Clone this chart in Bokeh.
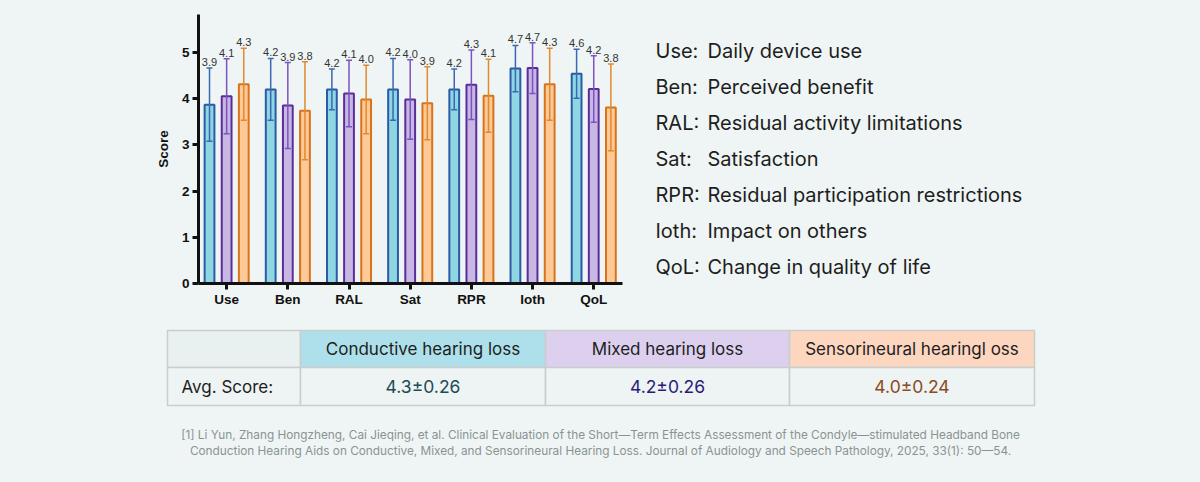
from bokeh.plotting import figure
from bokeh.models import ColumnDataSource, Range1d, FixedTicker, Whisker, TeeHead
from bokeh.layouts import column, row
from bokeh.embed import file_html
from bokeh.resources import INLINE
from bokeh.core.properties import value

# ---------------- data ----------------
categories = ["Use", "Ben", "RAL", "Sat", "RPR", "Ioth", "QoL"]
group_names = ["Conductive hearing loss", "Mixed hearing loss", "Sensorineural hearingl oss"]

conductive_mean = [3.87, 4.20, 4.20, 4.20, 4.20, 4.65, 4.54]
conductive_sd = [0.79, 0.67, 0.44, 0.67, 0.44, 0.50, 0.53]
conductive_lbl = ["3.9", "4.2", "4.2", "4.2", "4.2", "4.7", "4.6"]

mixed_mean = [4.05, 3.85, 4.11, 3.98, 4.30, 4.66, 4.21]
mixed_sd = [0.81, 0.93, 0.72, 0.86, 0.75, 0.55, 0.72]
mixed_lbl = ["4.1", "3.9", "4.1", "4.0", "4.3", "4.7", "4.2"]

sensori_mean = [4.31, 3.74, 3.98, 3.90, 4.06, 4.31, 3.81]
sensori_sd = [0.78, 1.06, 0.74, 0.79, 0.79, 0.78, 0.94]
sensori_lbl = ["4.3", "3.8", "4.0", "3.9", "4.1", "4.3", "3.8"]

y_ticks = [0, 1, 2, 3, 4, 5]

legend_abbr = ["Use:", "Ben:", "RAL:", "Sat:", "RPR:", "Ioth:", "QoL:"]
legend_desc = ["Daily device use", "Perceived benefit", "Residual activity limitations",
               "Satisfaction", "Residual participation restrictions", "Impact on others",
               "Change in quality of life"]

avg_label = "Avg. Score:"
avg_scores = ["4.3\u00b10.26", "4.2\u00b10.26", "4.0\u00b10.24"]

citation = [
    "[1] Li Yun, Zhang Hongzheng, Cai Jieqing, et al. Clinical Evaluation of the Short\u2014Term Effects Assessment of the Condyle\u2014stimulated Headband Bone",
    "Conduction Hearing Aids on Conductive, Mixed, and Sensorineural Hearing Loss. Journal of Audiology and Speech Pathology, 2025, 33(1): 50\u201454.",
]

# ---------------- styles ----------------
BG = "#eff5f4"
fills = ["#8fd6e3", "#c9b7e3", "#fcc997"]
lines = ["#2b5aa6", "#5a2d9a", "#d8731c"]
whisk = ["#3b68b3", "#7b52c2", "#e08a30"]
head_fills = ["#ade0ea", "#dcd0ee", "#fdd6c0"]
val_colors = ["#1d4a55", "#2c1a78", "#8b4a22"]
offsets = [-0.28, 0.0, 0.28]
FONT = "Liberation Sans"
TFONT = "Inter"


def blank(w, h, xr, yr):
    f = figure(frame_width=w, frame_height=h, output_backend="svg", toolbar_location=None,
               x_range=xr, y_range=yr, min_border=0,
               x_axis_location=None, y_axis_location=None)
    f.background_fill_color = BG
    f.border_fill_color = BG
    f.outline_line_color = None
    f.grid.visible = False
    return f


# ---------------- chart (page x 0..648, y 0..318) ----------------
p = figure(width=648, height=318, output_backend="svg", toolbar_location=None,
           x_range=Range1d(-0.46, 6.47), y_range=Range1d(0, 5.82),
           min_border_left=198, min_border_right=26, min_border_top=14, min_border_bottom=35)
p.background_fill_color = BG
p.border_fill_color = BG
p.outline_line_color = None
p.xgrid.visible = False
p.ygrid.visible = False

series = [(conductive_mean, conductive_sd, conductive_lbl),
          (mixed_mean, mixed_sd, mixed_lbl),
          (sensori_mean, sensori_sd, sensori_lbl)]

for g, (m, s, lb) in enumerate(series):
    src = ColumnDataSource(dict(
        x=[i + offsets[g] for i in range(len(categories))],
        top=m,
        upper=[a + b for a, b in zip(m, s)],
        lower=[a - b for a, b in zip(m, s)],
        lbl=lb,
    ))
    p.vbar(x="x", top="top", bottom=0, width=0.16, source=src,
           fill_color=fills[g], line_color=lines[g], line_width=2)
    w = Whisker(source=src, base="x", upper="upper", lower="lower",
                line_color=whisk[g], line_width=1.5, level="annotation",
                upper_head=TeeHead(size=6, line_color=whisk[g], line_width=1.5),
                lower_head=TeeHead(size=6, line_color=whisk[g], line_width=1.5))
    p.add_layout(w)
    p.text(x="x", y="upper", text="lbl", source=src, y_offset=-2,
           text_align="center", text_baseline="bottom",
           text_font=value(FONT), text_font_size="11px", text_color="#333333")

for ax in (p.xaxis[0], p.yaxis[0]):
    ax.axis_line_width = 3
    ax.axis_line_color = "#111111"
    ax.major_tick_line_width = 3
    ax.major_tick_line_color = "#111111"
    ax.major_tick_out = 6
    ax.major_tick_in = 0
    ax.minor_tick_line_color = None
    ax.major_label_text_font = FONT
    ax.major_label_text_font_style = "bold"
    ax.major_label_text_font_size = "13.5px"
    ax.major_label_text_color = "#111111"

p.xaxis.ticker = FixedTicker(ticks=list(range(len(categories))))
p.xaxis.major_label_overrides = {i: c for i, c in enumerate(categories)}
p.xaxis.major_label_standoff = 2
p.yaxis.ticker = FixedTicker(ticks=y_ticks)
p.yaxis.major_label_standoff = 3
p.yaxis.axis_label = "Score"
p.yaxis.axis_label_text_font = FONT
p.yaxis.axis_label_text_font_style = "bold"
p.yaxis.axis_label_text_font_size = "13.5px"
p.yaxis.axis_label_text_color = "#111111"
p.yaxis.axis_label_standoff = 8

# ---------------- legend text (page x 648..1200, y 0..318) ----------------
lg = blank(552, 318, Range1d(648, 1200), Range1d(318, 0))
ly = [36 + 36 * i for i in range(len(legend_abbr))]
lsrc = ColumnDataSource(dict(y=ly, a=legend_abbr, d=legend_desc))
lg.text(x=655, y="y", text="a", source=lsrc, text_font=value(TFONT), text_font_size="20px",
        text_color="#1e1e1e", text_baseline="middle", text_align="left")
lg.text(x=707, y="y", text="d", source=lsrc, text_font=value(TFONT), text_font_size="20px",
        text_color="#1e1e1e", text_baseline="middle", text_align="left")

# ---------------- table (page x 0..1200, y 318..482) ----------------
t = blank(1200, 164, Range1d(0, 1200), Range1d(482, 318))

col_x = [167, 300, 545, 789, 1034]
row_y = [330, 367, 405]
hdr_left = col_x[:-1]
hdr_right = col_x[1:]
t.quad(left=hdr_left, right=hdr_right, top=[row_y[0]] * 4, bottom=[row_y[1]] * 4,
       fill_color=["#e8f1f0"] + head_fills, line_color="#c9cdcd", line_width=1.5)
t.quad(left=hdr_left, right=hdr_right, top=[row_y[1]] * 4, bottom=[row_y[2]] * 4,
       fill_color=["#edf4f3"] * 4, line_color="#c9cdcd", line_width=1.5)

centers = [(col_x[i + 1] + col_x[i + 2]) / 2 for i in range(3)]
hy = (row_y[0] + row_y[1]) / 2
vy = (row_y[1] + row_y[2]) / 2
t.text(x=centers, y=[hy] * 3, text=group_names, text_font=value(TFONT), text_font_size="17px",
       text_color="#1e1e1e", text_align="center", text_baseline="middle")
t.text(x=centers, y=[vy] * 3, text=avg_scores, text_font=value(TFONT), text_font_size="17.5px",
       text_color=val_colors, text_align="center", text_baseline="middle")
t.text(x=[181], y=[vy], text=[avg_label], text_font=value(TFONT), text_font_size="17px",
       text_color="#1e1e1e", text_align="left", text_baseline="middle")
t.text(x=[600, 600], y=[434, 450], text=citation, text_font=value(TFONT), text_font_size="11.8px",
       text_color="#8a9393", text_align="center", text_baseline="middle")

layout = column(row(p, lg, spacing=0), t, spacing=0)
html = file_html(layout, INLINE)
html = html.replace("<head>", "<head><style>html,body{margin:0;padding:0;background:%s;}</style>" % BG, 1)
open("out.html", "w").write(html)
